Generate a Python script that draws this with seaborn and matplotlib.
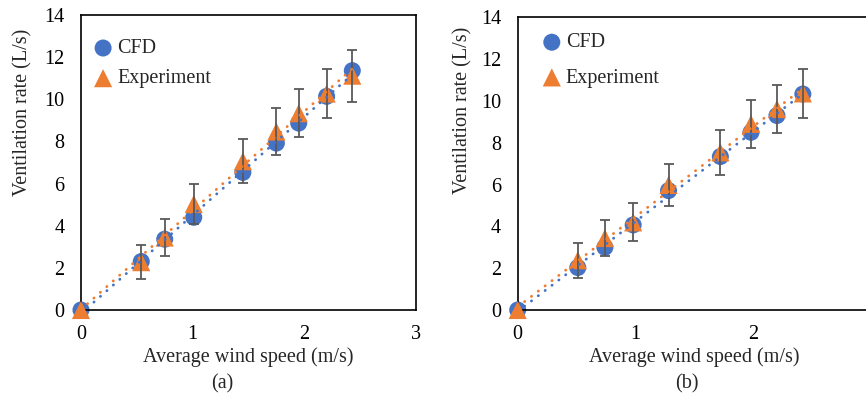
import numpy as np
import pandas as pd
import matplotlib
matplotlib.use("Agg")
import matplotlib.pyplot as plt
import seaborn as sns

# Panel (a)
a_speed = [0, 0.54, 0.75, 1.01, 1.45, 1.75, 1.95, 2.20, 2.43]
a_cfd = [0, 2.30, 3.36, 4.40, 6.53, 7.92, 8.87, 10.14, 11.36]
a_exp = [0, 2.27, 3.44, 5.03, 7.06, 8.47, 9.34, 10.27, 11.12]
a_err = [0, 0.82, 0.86, 0.96, 1.05, 1.10, 1.15, 1.18, 1.24]

# Panel (b)
b_speed = [0, 0.51, 0.74, 0.98, 1.28, 1.72, 1.98, 2.20, 2.42]
b_cfd = [0, 2.03, 3.00, 4.07, 5.71, 7.34, 8.50, 9.30, 10.33]
b_exp = [0, 2.38, 3.44, 4.19, 5.98, 7.54, 8.90, 9.61, 10.36]
b_err = [0, 0.84, 0.86, 0.91, 0.99, 1.07, 1.13, 1.16, 1.19]

y_ticks = [0, 2, 4, 6, 8, 10, 12, 14]
a_x_ticks = [0, 1, 2, 3]
b_x_ticks = [0, 1, 2]

BLUE = "#4472C4"
ORANGE = "#ED7D31"
GREY = "#595959"
FS = 14.5

sns.set_theme(style="white")
plt.rcParams["font.family"] = ["Liberation Serif", "DejaVu Serif"]
plt.rcParams["font.size"] = FS

fig = plt.figure(figsize=(8.66, 3.94), dpi=100)
ax_a = fig.add_axes([0.0935, 0.2132, 0.3868, 0.7487])
ax_b = fig.add_axes([0.5978, 0.2132, 0.4082, 0.7429])

dot_style = (0, (0.1, 3.0))


def draw_panel(ax, speed, cfd, exp, err, x_ticks, leg_anchor, leg_spacing):
    df = pd.DataFrame({"speed": speed, "cfd": cfd, "exp": exp, "err": err})
    sns.scatterplot(data=df, x="speed", y="cfd", ax=ax, marker="o", s=150,
                    color=BLUE, edgecolor="none", label="CFD",
                    clip_on=False, zorder=2)
    sns.scatterplot(data=df, x="speed", y="exp", ax=ax, marker="^", s=170,
                    color=ORANGE, edgecolor="none", label="Experiment",
                    clip_on=False, zorder=3)
    nz = df[df["err"] > 0]
    ax.errorbar(nz["speed"], nz["exp"], yerr=nz["err"], fmt="none",
                ecolor=GREY, elinewidth=1.3, capsize=3.8, capthick=1.3,
                zorder=4)
    for col, colour in (("cfd", BLUE), ("exp", ORANGE)):
        sns.regplot(data=df, x="speed", y=col, ax=ax, scatter=False, ci=None,
                    truncate=True,
                    line_kws=dict(color=colour, lw=2.0, linestyle=dot_style,
                                  dash_capstyle="round", zorder=5))
    ax.set_xlim(0, 3)
    ax.set_ylim(0, 14)
    ax.set_xticks(x_ticks)
    ax.set_yticks(y_ticks)
    ax.tick_params(axis="both", length=0, labelsize=FS, colors="#000000")
    ax.tick_params(axis="x", pad=11)
    ax.tick_params(axis="y", pad=12)
    ax.set_xlabel("Average wind speed (m/s)", fontsize=FS, labelpad=2)
    ax.set_ylabel("Ventilation rate (L/s)", fontsize=FS)
    for sp in ax.spines.values():
        sp.set_color("#000000")
        sp.set_linewidth(1.2)
    ax.grid(False)
    ax.legend(loc="upper left", bbox_to_anchor=leg_anchor, frameon=False,
              handlelength=1.0, handletextpad=0.2, borderpad=0,
              borderaxespad=0, labelspacing=leg_spacing, fontsize=FS)


draw_panel(ax_a, a_speed, a_cfd, a_exp, a_err, a_x_ticks, (0.036, 0.918), 0.55)
draw_panel(ax_b, b_speed, b_cfd, b_exp, b_err, b_x_ticks, (0.068, 0.945), 0.8)
ax_a.yaxis.set_label_coords(-0.146, 0.67)
ax_b.yaxis.set_label_coords(-0.129, 0.683)

fig.text(222 / 866, 1 - 384 / 394, "(a)", ha="center", va="center", fontsize=FS)
fig.text(687 / 866, 1 - 384 / 394, "(b)", ha="center", va="center", fontsize=FS)

fig.savefig("out.png", dpi=100)
